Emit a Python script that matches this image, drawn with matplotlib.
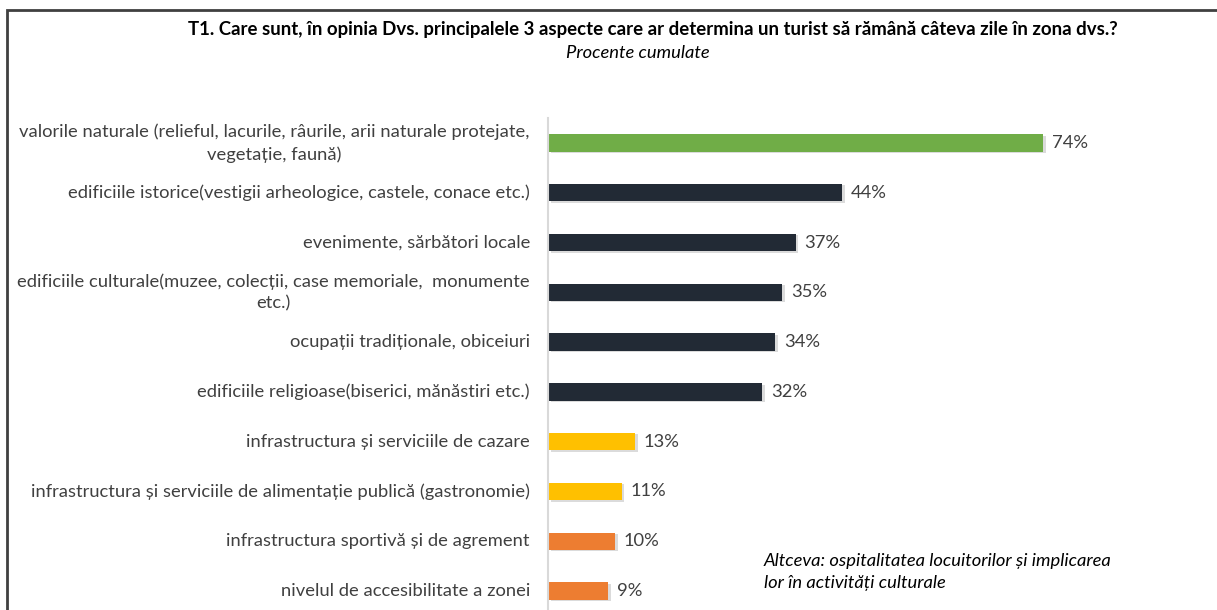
import matplotlib.pyplot as plt
import matplotlib.patheffects as pe
from matplotlib.patches import Rectangle

plt.rcParams['font.family'] = ['Lato', 'DejaVu Sans']

categories = [
    "valorile naturale (relieful, lacurile, râurile, arii naturale protejate,\nvegetație, faună)",
    "edificiile istorice(vestigii arheologice, castele, conace etc.)",
    "evenimente, sărbători locale",
    "edificiile culturale(muzee, colecții, case memoriale,  monumente\netc.)",
    "ocupații tradiționale, obiceiuri",
    "edificiile religioase(biserici, mănăstiri etc.)",
    "infrastructura și serviciile de cazare",
    "infrastructura și serviciile de alimentație publică (gastronomie)",
    "infrastructura sportivă și de agrement",
    "nivelul de accesibilitate a zonei",
]
values = [74, 44, 37, 35, 34, 32, 13, 11, 10, 9]
colors = ["#70AD47"] + ["#222A35"] * 5 + ["#FFC000"] * 2 + ["#ED7D31"] * 2

W, H = 1217, 610
fig = plt.figure(figsize=(W / 100, H / 100), dpi=100)

# outer frame (runs off the right and bottom edges)
fig.patches.append(Rectangle((7 / W, -0.05), 1.1, 1 - 10 / H + 0.05,
                             transform=fig.transFigure, fill=False,
                             edgecolor="#404040", linewidth=2))

ax_left, ax_top = 548, 118
px_per_pct = (1043 - 548) / 74.0
ax_right = 1217
ax = fig.add_axes([ax_left / W, 0, (ax_right - ax_left) / W, (H - ax_top) / H])
ax.set_xlim(0, (ax_right - ax_left) / px_per_pct)
step = 49.8
ax.set_ylim(9 + (610 - 591) / step, -(143 - ax_top) / step)

y = range(len(values))
bars = ax.barh(y, values, height=0.35, color=colors, zorder=2)
for b in bars:
    b.set_path_effects([pe.SimplePatchShadow(offset=(2, -1), shadow_rgbFace="#999999", alpha=0.35),
                        pe.Normal()])

fs = 13.2
for i, v in enumerate(values):
    ax.text(v + 1.3, i, f"{v}%", va="center", ha="left", fontsize=fs, color="#404040")
    ax.text(-2.7, i, categories[i], va="center", ha="right", multialignment="center",
            fontsize=fs, color="#404040", linespacing=1.45)

ax.set_xticks([])
ax.set_yticks([])
for s in ["top", "right", "bottom"]:
    ax.spines[s].set_visible(False)
ax.spines["left"].set_color("#d9d9d9")
ax.spines["left"].set_linewidth(1.5)
ax.patch.set_alpha(0)

fig.text(653 / W, 1 - 30 / H,
         "T1. Care sunt, în opinia Dvs. principalele 3 aspecte care ar determina un turist să rămână câteva zile în zona dvs.?",
         ha="center", va="center", fontsize=13.4, fontweight="bold", color="#000000")
fig.text(638 / W, 1 - 53 / H, "Procente cumulate", ha="center", va="center",
         fontsize=13.2, style="italic", color="#000000")
fig.text(764 / W, 1 - 572 / H,
         "Altceva: ospitalitatea locuitorilor și implicarea\nlor în activități culturale",
         ha="left", va="center", fontsize=13.2, style="italic", color="#000000",
         linespacing=1.45)

fig.savefig("out.png", dpi=100)
